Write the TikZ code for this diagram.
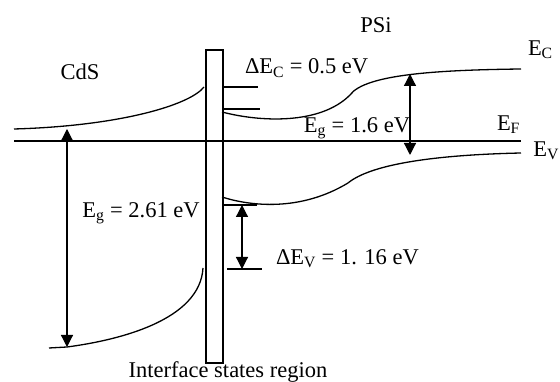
\documentclass[tikz,border=0pt]{standalone}
\usepackage{fontspec}
\setmainfont{Liberation Serif}
\usetikzlibrary{arrows.meta}
\tikzset{
  band diagram/.style={
    x=1pt, y=1pt, line width=1.3pt,
    every node/.style={font=\fontsize{22.5}{27}\selectfont,
      text=black, inner sep=0pt, outer sep=0pt}
  },
  band edge/.style={line width=1.3pt},
  band arrow/.style={line width=1.2pt,
    {Triangle[length=12pt,width=12pt]}-{Triangle[length=12pt,width=12pt]}}
}
\newcommand{\Esub}[1]{E\textsubscript{#1}}
\begin{document}
\begin{tikzpicture}[band diagram]
  \useasboundingbox (0,0) rectangle (560,382);
  % interface layer
  \draw (206,19) rectangle (223,332);
  % Fermi level
  \coordinate (fermiL) at (14,241);
  \coordinate (fermiR) at (521,241);
  \draw (fermiL) -- (fermiR);
  % CdS bands
  \draw[band edge] (14,253) .. controls (120,256) and (190,277) .. (204,295);
  \draw[band edge] (49,34) -- (67,35) .. controls (120,42) and (200,62) .. (203,114);
  % PSi bands
  \draw[band edge] (222,270) .. controls (260,260) and (320,257) .. (350,287)
    .. controls (365,308) and (440,312) .. (521,313);
  \draw[band edge] (222,185) .. controls (250,176) and (300,170) .. (348,199)
    .. controls (370,217) and (430,227) .. (521,229);
  % offsets at the interface
  \draw (223,295) -- (258,295);
  \draw (223,273) -- (260,273);
  \draw (223,177) -- (257,177);
  \draw (227,113) -- (262,113);
  % gaps and offsets
  \coordinate (cdsCB) at (67,253);
  \coordinate (cdsVB) at (67,35);
  \coordinate (psiCB) at (410,308);
  \coordinate (psiVB) at (410,227);
  \coordinate (offTop) at (242,177);
  \coordinate (offBot) at (242,113);
  \draw[band arrow] (cdsCB) -- (cdsVB);
  \draw[band arrow] (psiCB) -- (psiVB);
  \draw[band arrow] (offTop) -- (offBot);
  % labels
  \node (cds) at (80,310) {CdS};
  \node (psi) at (376,357) {PSi};
  \node[anchor=west] (ec) at (528,332) {\Esub{C}};
  \node[anchor=east] (ev) at (559,231) {\Esub{V}};
  \node[anchor=west] (ef) at (497,257) {\Esub{F}};
  \node[anchor=west] (dec) at (245,314) {Δ\Esub{C} = 0.5 eV};
  \node (egPsi) at (357,254) {\Esub{g} = 1.6 eV};
  \node (egCds) at (141,169) {\Esub{g} = 2.61 eV};
  \node[anchor=west] (dev) at (276,123) {Δ\Esub{V} = 1. 16 eV};
  \node[anchor=base] (iface) at (228,4) {Interface states region};
\end{tikzpicture}
\end{document}
